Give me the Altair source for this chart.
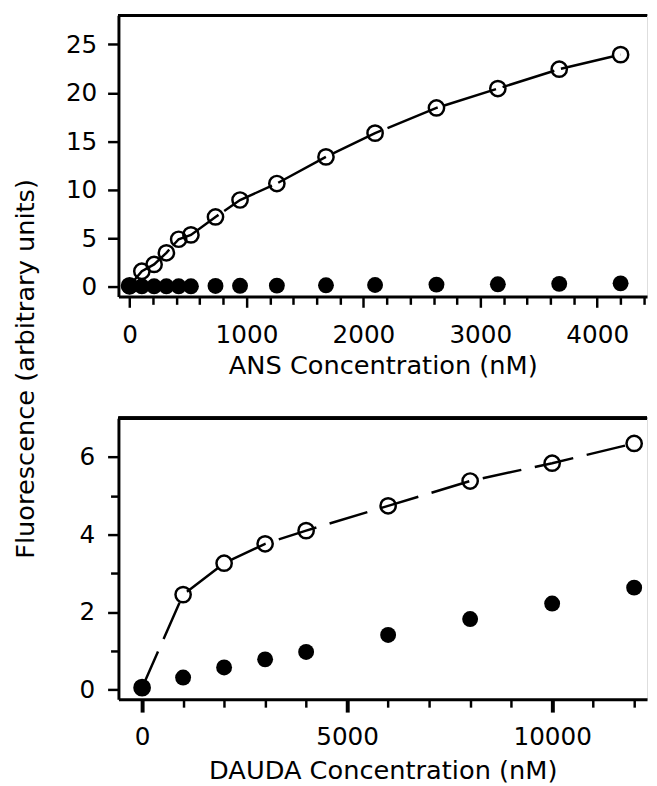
import altair as alt
import pandas as pd

# ---------------- data ----------------
ans_conc = [0, 105, 210, 315, 420, 525, 735, 945, 1260, 1680, 2100, 2625, 3150, 3675, 4200]
ans_open = [0.1, 1.6, 2.3, 3.5, 4.9, 5.35, 7.2, 8.95, 10.65, 13.4, 15.85, 18.45, 20.45, 22.45, 23.95]
ans_filled = [0.05, 0.05, 0.05, 0.05, 0.05, 0.05, 0.08, 0.1, 0.12, 0.15, 0.18, 0.22, 0.25, 0.3, 0.35]

dauda_conc = [0, 1000, 2000, 3000, 4000, 6000, 8000, 10000, 12000]
dauda_open = [0.05, 2.45, 3.26, 3.76, 4.1, 4.74, 5.38, 5.84, 6.35]
dauda_filled = [0.05, 0.31, 0.57, 0.78, 0.97, 1.41, 1.82, 2.22, 2.63]

ans_x_major = [0, 1000, 2000, 3000, 4000]
ans_x_minor = [200, 400, 600, 800, 1200, 1400, 1600, 1800, 2200, 2400, 2600, 2800,
               3200, 3400, 3600, 3800, 4200, 4400]
ans_y_major = [0, 5, 10, 15, 20, 25]

dauda_x_major = [0, 5000, 10000]
dauda_x_minor = [1000, 2000, 3000, 4000, 6000, 7000, 8000, 9000, 11000, 12000]
dauda_y_major = [0, 2, 4, 6]
dauda_y_minor = [1, 3, 5]

FONT = "DejaVu Sans"
W = 536
H = 285


def panel(xs, opens, filleds, xdom, ydom, xmaj, xmin, ymaj, ymin, xtitle, ytitle,
          dash, maj_w, maj_len, ylabpad, xtitle_y, xlabpad):
    df = pd.DataFrame({"x": xs, "open": opens, "filled": filleds})
    base = alt.Chart(df)
    xs_ = alt.Scale(domain=xdom, nice=False, zero=False)
    ys_ = alt.Scale(domain=ydom, nice=False, zero=False)

    x_axis = alt.Axis(values=xmaj, orient="bottom", title=xtitle, grid=False, format="d",
                      domain=True, domainWidth=3, domainColor="black",
                      ticks=True, tickSize=maj_len, tickWidth=maj_w, tickColor="black",
                      labelFont=FONT, labelFontSize=25, labelColor="black",
                      labelPadding=xlabpad, labelFlush=False,
                      titleFont=FONT, titleFontSize=26, titleFontWeight="normal",
                      titleColor="black", titleY=xtitle_y, titleBaseline="alphabetic")
    yargs = dict(values=ymaj, orient="left", grid=False, format="d",
                 domain=True, domainWidth=3, domainColor="black",
                 ticks=True, tickSize=11, tickWidth=2.5, tickColor="black",
                 labelFont=FONT, labelFontSize=25, labelColor="black",
                 labelPadding=ylabpad, labelFlush=False)
    if ytitle:
        yargs.update(title=ytitle, titleFont=FONT, titleFontSize=26,
                     titleFontWeight="normal", titleColor="black",
                     titleX=-86.5, titleY=358, titleAngle=270,
                     titleBaseline="alphabetic", titleAlign="center")
    else:
        yargs.update(title=None)
    y_axis = alt.Axis(**yargs)

    line = base.mark_line(color="black", strokeWidth=2.5, strokeDash=dash).encode(
        x=alt.X("x:Q", scale=xs_, axis=x_axis),
        y=alt.Y("open:Q", scale=ys_, axis=y_axis),
    )
    minor_y = (alt.Axis(values=ymin, orient="left", grid=False, domain=False,
                        labels=False, ticks=True, tickSize=8, tickWidth=2.5,
                        tickColor="black", title=None)
               if ymin else None)
    minor = base.mark_point(opacity=0).encode(
        x=alt.X("x:Q", scale=xs_,
                axis=alt.Axis(values=xmin, orient="bottom", grid=False, domain=False,
                              labels=False, ticks=True, tickSize=8, tickWidth=2.5,
                              tickColor="black", title=None)),
        y=alt.Y("open:Q", scale=ys_, axis=minor_y),
    )
    top_rule = base.mark_rule(color="black", strokeWidth=3).encode(
        x=alt.value(0), x2=alt.value(W), y=alt.value(0)
    )
    open_pts = base.mark_point(shape="circle", filled=False, size=240,
                               strokeWidth=2.5, color="black", opacity=1).encode(
        x=alt.X("x:Q", scale=xs_, axis=None),
        y=alt.Y("open:Q", scale=ys_, axis=None),
    )
    filled_pts = base.mark_circle(size=260, color="black", opacity=1).encode(
        x=alt.X("x:Q", scale=xs_, axis=None),
        y=alt.Y("filled:Q", scale=ys_, axis=None),
    )
    return (alt.layer(line, minor, top_rule, open_pts, filled_pts)
            .resolve_axis(x="independent", y="independent")
            .properties(width=W, height=H))


top = panel(ans_conc, ans_open, ans_filled, [-95, 4426], [-1, 28],
            ans_x_major, ans_x_minor, ans_y_major, None,
            "ANS Concentration (nM)", "Fluorescence (arbitrary units)",
            [55, 7], 2.5, 11, 11, 78, 16)
bottom = panel(dauda_conc, dauda_open, dauda_filled, [-577, 12314], [-0.25, 7],
               dauda_x_major, dauda_x_minor, dauda_y_major, dauda_y_minor,
               "DAUDA Concentration (nM)", None,
               [40, 14], 4, 13, 13, 80, 13)

chart = alt.vconcat(top, bottom, spacing=123.5, bounds="flush").properties(
    padding={"left": 4, "top": 0, "right": 0, "bottom": 0}
).configure_view(stroke=None).configure(background="white")

chart.save("out.html", embed_options={"renderer": "svg", "actions": False})
